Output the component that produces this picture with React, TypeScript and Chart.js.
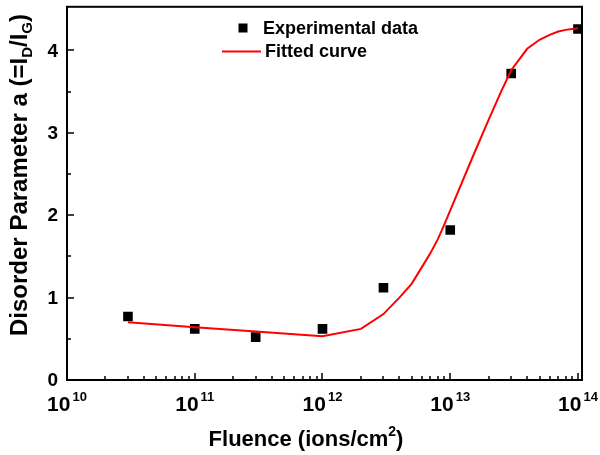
import React, { useEffect, useRef } from "react";
import { Chart, registerables } from "chart.js";

Chart.register(...registerables);

// Experimental data
const expFluence = [3e10, 1e11, 3e11, 1e12, 3e12, 1e13, 3e13, 1e14];
const expDisorder = [0.77, 0.62, 0.52, 0.62, 1.12, 1.82, 3.72, 4.26];

// Fitted curve
const fitFluence = [
  3e10, 1e11, 3e11, 1e12, 2e12, 3e12, 4e12, 5e12, 6e12, 7e12, 8e12, 9e12,
  1e13, 1.5e13, 2e13, 2.5e13, 3e13, 4e13, 5e13, 6e13, 7e13, 8e13, 9e13, 1e14,
];
const fitDisorder = [
  0.70, 0.64, 0.59, 0.53, 0.62, 0.80, 1.0, 1.17, 1.37, 1.54, 1.71, 1.89,
  2.06, 2.71, 3.16, 3.5, 3.76, 4.02, 4.13, 4.19, 4.23, 4.25, 4.26, 4.27,
];

// Axis ticks
const xExponents = [10, 11, 12, 13, 14];
const yTickValues = [0, 1, 2, 3, 4];
const yMinorValues = [0.5, 1.5, 2.5, 3.5];

const FONT = '"Liberation Sans", Arial, Helvetica, sans-serif';

type Seg = { t: string; size: number; dy: number };

function drawSegments(ctx: CanvasRenderingContext2D, segs: Seg[], x: number, y: number) {
  let cx = x;
  for (const s of segs) {
    ctx.font = `bold ${s.size}px ${FONT}`;
    ctx.fillText(s.t, cx, y + s.dy);
    cx += ctx.measureText(s.t).width;
  }
}
function segWidth(ctx: CanvasRenderingContext2D, segs: Seg[]) {
  let w = 0;
  for (const s of segs) {
    ctx.font = `bold ${s.size}px ${FONT}`;
    w += ctx.measureText(s.t).width;
  }
  return w;
}

const deco = {
  id: "deco",
  afterDraw(chart: any) {
    const { ctx, chartArea: a, scales } = chart;
    const xs = scales.x;
    const ys = scales.y;
    ctx.save();
    ctx.strokeStyle = "#000";
    ctx.fillStyle = "#000";
    ctx.lineCap = "butt";

    const seg = (x1: number, y1: number, x2: number, y2: number) => {
      ctx.beginPath();
      ctx.moveTo(x1, y1);
      ctx.lineTo(x2, y2);
      ctx.stroke();
    };

    // ticks (inward)
    ctx.lineWidth = 1.5;
    for (const e of xExponents) {
      const px = Math.round(xs.getPixelForValue(Math.pow(10, e)));
      seg(px, a.bottom, px, a.bottom - 7);
    }
    for (let e = 10; e < 14; e++) {
      for (let m = 2; m <= 9; m++) {
        const px = Math.round(xs.getPixelForValue(m * Math.pow(10, e)));
        seg(px, a.bottom, px, a.bottom - 4);
      }
    }
    for (const v of yTickValues) {
      const py = Math.round(ys.getPixelForValue(v));
      seg(a.left, py, a.left + 7, py);
    }
    for (const v of yMinorValues) {
      const py = Math.round(ys.getPixelForValue(v));
      seg(a.left, py, a.left + 4, py);
    }

    // frame
    ctx.lineWidth = 2;
    ctx.strokeRect(a.left, a.top, a.right - a.left, a.bottom - a.top);

    // y tick labels
    ctx.font = `bold 19px ${FONT}`;
    ctx.textAlign = "right";
    ctx.textBaseline = "middle";
    for (const v of yTickValues) {
      ctx.fillText(String(v), a.left - 9, ys.getPixelForValue(v) + 1);
    }

    // x tick labels 10^n
    ctx.textAlign = "left";
    ctx.textBaseline = "alphabetic";
    for (const e of xExponents) {
      const px = xs.getPixelForValue(Math.pow(10, e));
      const base: Seg = { t: "10", size: 21, dy: 0 };
      const sup: Seg = { t: String(e), size: 13, dy: -10 };
      const w = segWidth(ctx, [base, sup]) + 2;
      drawSegments(ctx, [base], px - w / 2, 411);
      const w0 = segWidth(ctx, [base]);
      drawSegments(ctx, [sup], px - w / 2 + w0 + 2, 411);
    }

    // x title
    const xt: Seg[] = [
      { t: "Fluence (ions/cm", size: 22, dy: 0 },
      { t: "2", size: 14, dy: -10 },
      { t: ")", size: 22, dy: 0 },
    ];
    const xtw = segWidth(ctx, xt);
    drawSegments(ctx, xt, 306 - xtw / 2, 446);

    // y title (rotated)
    const yt: Seg[] = [
      { t: "Disorder Parameter a (=I", size: 24, dy: 0 },
      { t: "D", size: 15, dy: 5 },
      { t: "/I", size: 24, dy: 0 },
      { t: "G", size: 15, dy: 5 },
      { t: ")", size: 24, dy: 0 },
    ];
    const ytw = segWidth(ctx, yt);
    ctx.save();
    ctx.translate(27, 175);
    ctx.rotate(-Math.PI / 2);
    drawSegments(ctx, yt, -ytw / 2, 0);
    ctx.restore();

    // legend
    ctx.fillRect(238.5, 23.5, 9, 9);
    ctx.font = `bold 18px ${FONT}`;
    ctx.textBaseline = "middle";
    ctx.fillText("Experimental data", 263, 29);
    ctx.strokeStyle = "#ff0000";
    ctx.lineWidth = 2;
    seg(222, 51.5, 261, 51.5);
    ctx.fillText("Fitted curve", 265, 52);

    ctx.restore();
  },
};

export default function App() {
  const ref = useRef<HTMLCanvasElement>(null);
  useEffect(() => {
    if (!ref.current) return;
    const chart = new Chart(ref.current, {
      type: "scatter",
      data: {
        datasets: [
          {
            label: "Fitted curve",
            data: fitFluence.map((x, i) => ({ x, y: fitDisorder[i] })),
            showLine: true,
            borderColor: "#ff0000",
            backgroundColor: "#ff0000",
            borderWidth: 2,
            pointRadius: 0,
            tension: 0,
            order: 0,
          },
          {
            label: "Experimental data",
            data: expFluence.map((x, i) => ({ x, y: expDisorder[i] })),
            showLine: false,
            pointStyle: "rect",
            pointRadius: 6.8,
            pointBorderWidth: 0,
            borderWidth: 0,
            backgroundColor: "#000",
            borderColor: "#000",
            order: 1,
          },
        ],
      },
      options: {
        responsive: false,
        animation: false,
        devicePixelRatio: 1,
        layout: { padding: { top: 5, right: 18, left: 0, bottom: 0 } },
        plugins: { legend: { display: false }, tooltip: { enabled: false } },
        scales: {
          x: {
            type: "logarithmic",
            min: 1e10,
            max: 1.075e14,
            ticks: { display: false },
            grid: { display: false },
            border: { display: false },
            afterFit: (s: any) => {
              s.height = 75;
            },
          },
          y: {
            type: "linear",
            min: 0,
            max: 4.53,
            ticks: { display: false },
            grid: { display: false },
            border: { display: false },
            afterFit: (s: any) => {
              s.width = 67;
            },
          },
        },
      },
      plugins: [deco],
    } as any);
    return () => chart.destroy();
  }, []);
  return (
    <canvas
      ref={ref}
      width={600}
      height={455}
      style={{ position: "fixed", left: 0, top: 0, display: "block", width: 600, height: 455 }}
    />
  );
}
